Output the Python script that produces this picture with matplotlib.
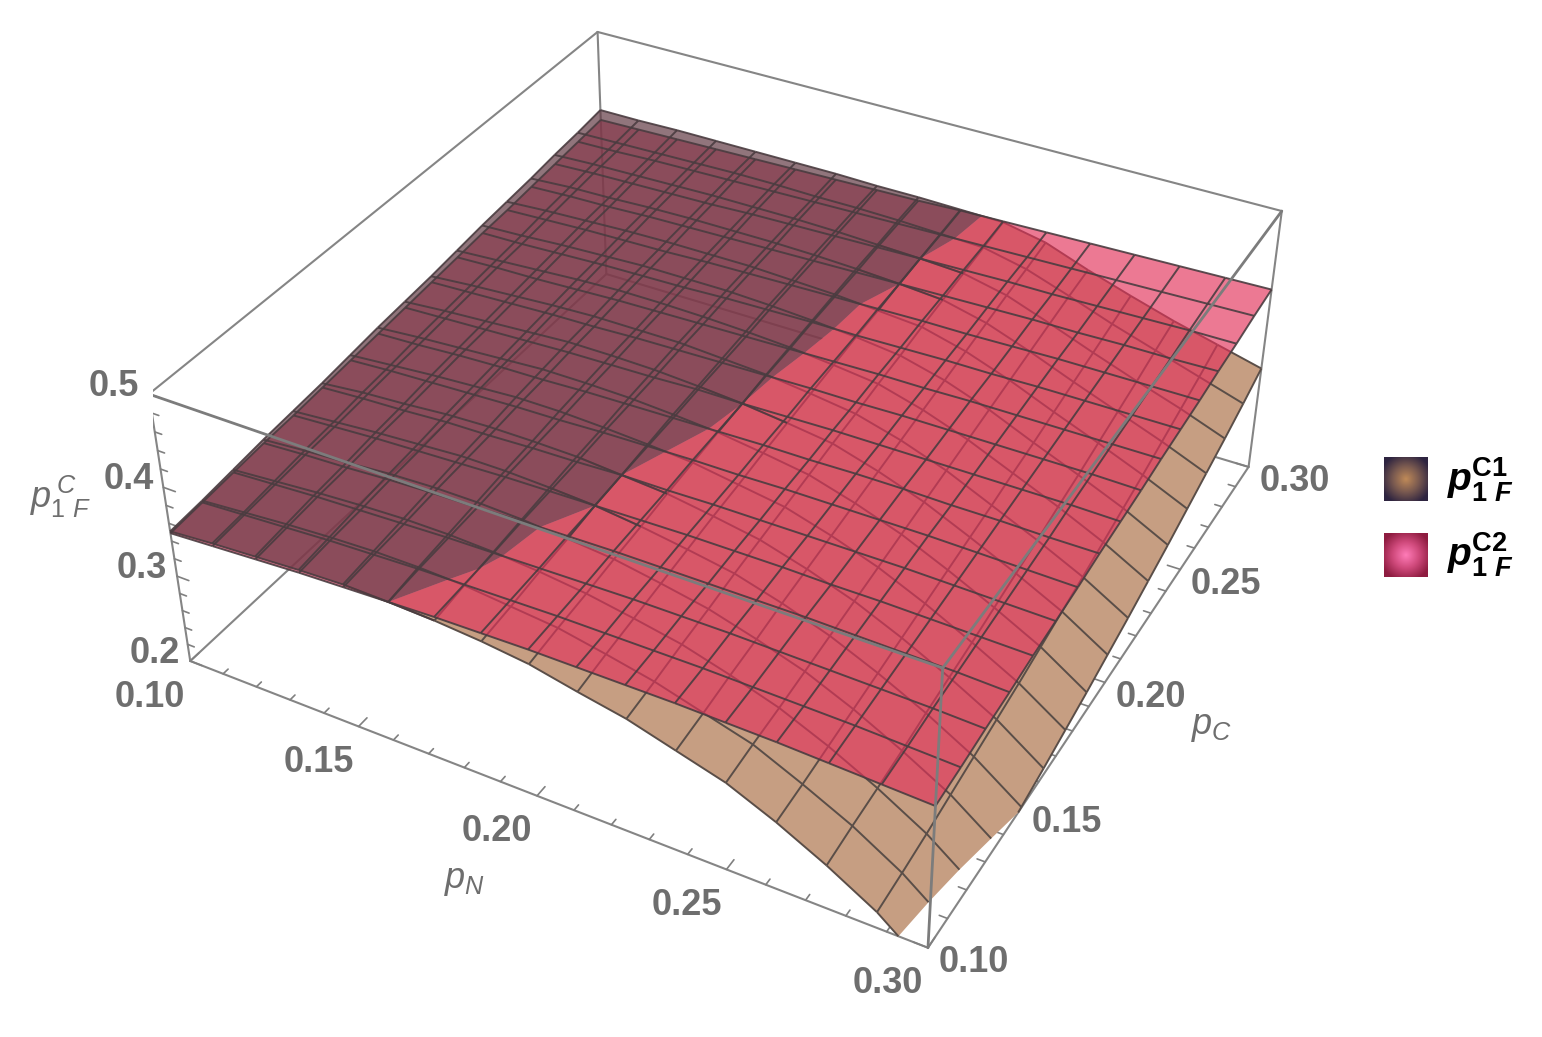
import numpy as np
import matplotlib
matplotlib.use("Agg")
import matplotlib.pyplot as plt
from matplotlib.colors import LinearSegmentedColormap
from mpl_toolkits.mplot3d import proj3d
from mpl_toolkits.mplot3d.art3d import Poly3DCollection, Line3DCollection

plt.rcParams['font.family'] = ['Liberation Sans', 'DejaVu Sans']
plt.rcParams['mathtext.fontset'] = 'custom'
plt.rcParams['mathtext.rm'] = 'Liberation Sans'
plt.rcParams['mathtext.it'] = 'Liberation Sans:italic'
plt.rcParams['mathtext.bf'] = 'Liberation Sans:bold'
plt.rcParams['mathtext.bfit'] = 'Liberation Sans:italic:bold'

# Values, in thousandths. Rows are pN, columns are pC
c1_values = [
    [351, 354, 358, 362, 365, 368, 372, 376, 379, 382, 386, 390, 393, 396, 400, 403, 407],
    [355, 358, 362, 366, 369, 373, 376, 380, 383, 386, 389, 392, 396, 399, 402, 404, 407],
    [358, 362, 366, 369, 373, 376, 380, 383, 386, 389, 392, 395, 398, 400, 403, 405, 408],
    [361, 365, 369, 373, 376, 380, 383, 386, 389, 392, 395, 397, 400, 402, 404, 406, 408],
    [363, 367, 371, 375, 379, 382, 386, 389, 392, 394, 397, 399, 401, 403, 405, 407, 408],
    [362, 367, 371, 375, 379, 382, 386, 389, 392, 394, 397, 399, 401, 403, 405, 407, 408],
    [360, 365, 369, 373, 377, 381, 384, 388, 391, 394, 396, 399, 401, 403, 405, 406, 408],
    [356, 360, 365, 369, 374, 377, 381, 385, 388, 391, 394, 397, 399, 402, 404, 406, 407],
    [350, 355, 359, 364, 368, 373, 377, 381, 384, 388, 391, 394, 397, 400, 402, 405, 407],
    [339, 345, 350, 355, 360, 365, 369, 374, 378, 382, 386, 390, 393, 397, 400, 403, 406],
    [329, 334, 340, 345, 351, 356, 361, 366, 371, 375, 380, 384, 389, 393, 397, 401, 405],
    [314, 319, 325, 330, 336, 341, 346, 351, 356, 361, 366, 371, 376, 381, 386, 390, 395],
    [299, 304, 308, 313, 318, 323, 328, 333, 338, 343, 348, 353, 358, 363, 368, 373, 377],
    [276, 280, 285, 290, 295, 300, 305, 310, 315, 320, 326, 331, 337, 343, 349, 355, 361],
    [249, 254, 258, 263, 269, 274, 279, 285, 291, 297, 304, 310, 317, 324, 331, 339, 346],
    [218, 222, 227, 233, 239, 245, 251, 258, 265, 272, 280, 288, 296, 305, 314, 323, 333],
    [176, 181, 187, 194, 201, 208, 216, 224, 233, 242, 252, 262, 273, 284, 295, 307, 320],
]
c2_values = [
    [349, 352, 355, 358, 360, 363, 366, 369, 372, 375, 378, 381, 383, 386, 389, 392, 395],
    [352, 355, 358, 361, 363, 366, 369, 371, 374, 377, 380, 382, 385, 388, 391, 393, 396],
    [355, 358, 361, 363, 366, 368, 371, 374, 376, 379, 381, 384, 387, 389, 392, 395, 397],
    [358, 361, 363, 366, 368, 371, 373, 376, 378, 381, 383, 386, 388, 391, 393, 396, 398],
    [360, 363, 365, 368, 370, 372, 375, 377, 380, 382, 385, 387, 389, 392, 394, 397, 399],
    [362, 365, 367, 369, 372, 374, 376, 379, 381, 384, 386, 388, 391, 393, 396, 398, 400],
    [364, 366, 368, 371, 373, 375, 378, 380, 382, 385, 387, 390, 392, 394, 397, 399, 401],
    [365, 367, 369, 372, 374, 377, 379, 381, 384, 386, 388, 391, 393, 395, 398, 400, 402],
    [366, 368, 370, 373, 375, 377, 380, 382, 384, 387, 389, 392, 394, 396, 399, 401, 403],
    [366, 368, 371, 373, 376, 378, 380, 383, 385, 388, 390, 392, 395, 397, 400, 402, 405],
    [366, 368, 371, 373, 376, 378, 381, 383, 386, 388, 391, 393, 396, 398, 401, 403, 406],
    [366, 368, 371, 373, 376, 378, 381, 384, 386, 389, 391, 394, 396, 399, 402, 404, 407],
    [365, 367, 370, 373, 375, 378, 381, 384, 386, 389, 392, 394, 397, 400, 402, 405, 408],
    [364, 366, 369, 372, 375, 378, 381, 383, 386, 389, 392, 395, 398, 400, 403, 406, 409],
    [362, 365, 368, 371, 374, 377, 380, 383, 386, 389, 392, 395, 398, 401, 404, 407, 410],
    [360, 363, 367, 370, 373, 376, 379, 382, 386, 389, 392, 395, 398, 401, 405, 408, 411],
    [358, 361, 365, 368, 372, 375, 378, 382, 385, 388, 392, 395, 398, 402, 405, 409, 412],
]
pn_ticks = [0.10, 0.15, 0.20, 0.25, 0.30]
pc_ticks = [0.10, 0.15, 0.20, 0.25, 0.30]
z_ticks = [0.2, 0.3, 0.4, 0.5]

W, H = 1542, 1037
c1 = np.array(c1_values) / 1000
c2 = np.array(c2_values) / 1000
grid = np.linspace(0.1, 0.3, 17)
x0, x1, y0, y1, z0, z1 = 0.1, 0.3, 0.1, 0.3, 0.2, 0.5

fig = plt.figure(figsize=(15.42, 10.37), dpi=100)
L, cx, cy = 1147.8, 726.9, 588.1
ax = fig.add_axes([(cx - L/2)/W, (cy - L/2)/H, L/W, L/H], projection='3d', computed_zorder=False)
ax.set_xlim(x0, x1)
ax.set_ylim(y0, y1)
ax.set_zlim(z0, z1)
ax.view_init(elev=36.035, azim=-61.324, roll=0.143)
ax.set_proj_type('persp', focal_length=0.4522)
ax.set_box_aspect((1, 0.9937, 0.4003))
ax.set_axis_off()


def clip(poly, idx, sign=1, lim=0.0):
    # keep the part of a polygon where column idx is on the sign side of lim
    out = []
    for a, b in zip(poly, poly[1:] + poly[:1]):
        fa, fb = sign*(a[idx] - lim), sign*(b[idx] - lim)
        if fa >= 0:
            out.append(a)
        if fa*fb < 0:
            out.append(a + (b - a)*fa/(fa - fb))
    return out


below, above, pink = [], [], []
for i in range(16):
    for j in range(16):
        quad = [(i, j), (i + 1, j), (i + 1, j + 1), (i, j + 1)]
        poly = [np.array([grid[a], grid[b], c1[a, b], c1[a, b] - c2[a, b]]) for a, b in quad]
        poly = clip(poly, 2, 1, z0)
        if len(poly) >= 3:
            up = clip(poly, 3, 1)
            lo = clip(poly, 3, -1)
            if len(up) >= 3:
                above.append([r[:3] for r in up])
            if len(lo) >= 3:
                below.append([r[:3] for r in lo])
        pink.append([(grid[a], grid[b], c2[a, b]) for a, b in quad])


def mesh(z, side=0):
    # mesh lines of a surface, cut at the floor and (side != 0) at the other surface
    segs = []
    for k in range(17):
        for m in range(16):
            for a, b in (((k, m), (k, m + 1)), ((m, k), (m + 1, k))):
                pts = [np.array([grid[p[0]], grid[p[1]], z[p], c1[p] - c2[p]]) for p in (a, b)]
                keep = True
                for idx, lim, sg in ((2, z0, 1), (3, 0.0, side)):
                    if sg == 0:
                        continue
                    fa, fb = sg*(pts[0][idx] - lim), sg*(pts[1][idx] - lim)
                    if fa < 0 and fb < 0:
                        keep = False
                        break
                    if fa*fb < 0:
                        cut = pts[0] + (pts[1] - pts[0])*fa/(fa - fb)
                        pts = [pts[0], cut] if fa > 0 else [cut, pts[1]]
                if keep:
                    segs.append([pts[0][:3], pts[1][:3]])
    return segs


def line(p0, p1, z, lw=1.5, color='#858585'):
    ax.plot(*zip(p0, p1), color=color, lw=lw, zorder=z, solid_capstyle='round')


# box edges behind the surfaces
for a, b in [((x0, y0, z0), (x1, y0, z0)), ((x1, y0, z0), (x1, y1, z0)), ((x1, y1, z0), (x0, y1, z0)),
             ((x0, y1, z0), (x0, y0, z0)), ((x0, y0, z0), (x0, y0, z1)), ((x1, y1, z0), (x1, y1, z1)),
             ((x0, y1, z0), (x0, y1, z1)), ((x0, y0, z1), (x0, y1, z1)), ((x0, y1, z1), (x1, y1, z1))]:
    line(a, b, 1)

# surfaces
ax.add_collection3d(Poly3DCollection(below, facecolor='#c69e82', edgecolor='none', zorder=2))
ax.add_collection3d(Line3DCollection(mesh(c1, -1), colors='#5a4e48', linewidths=1.4, zorder=3))
ax.add_collection3d(Poly3DCollection(pink, facecolor=(226/255, 50/255, 90/255, 0.65), edgecolor='none', zorder=4))
ax.add_collection3d(Poly3DCollection(above, facecolor=(98/255, 58/255, 68/255, 0.7), edgecolor='none', zorder=5))
ax.add_collection3d(Line3DCollection(mesh(c2), colors='#4a3c40', linewidths=1.4, alpha=0.9, zorder=6))
ax.add_collection3d(Line3DCollection(mesh(c1, 1), colors='#4a3c40', linewidths=1.4, alpha=0.9, zorder=6))

# box edges in front
for a, b in [((x0, y0, z1), (x1, y0, z1)), ((x1, y0, z1), (x1, y1, z1)), ((x1, y0, z0), (x1, y0, z1))]:
    line(a, b, 7, lw=2, color='#7c7c7c')

# tick marks
for v in np.arange(0.10, 0.3001, 0.01):
    l = 0.002 if round(v*100) % 5 else 0.0035
    line((v, y0, z0), (v, y0 + l, z0), 1, lw=1.2, color='#808080')
    line((x1, v, z0), (x1 - l, v, z0), 1, lw=1.2, color='#808080')
for v in np.arange(0.2, 0.5001, 0.02):
    l = 0.002 if round(v*100) % 10 else 0.0035
    line((x0, y0, v), (x0 + l, y0, v), 1, lw=1.2, color='#808080')

M = ax.get_proj()


def label(txt, pt, off):
    X, Y, _ = proj3d.proj_transform(pt[0], pt[1], pt[2], M)
    ax.annotate(txt, (X, Y), xycoords='data', xytext=off, textcoords='offset pixels', ha='center', va='center',
                fontsize=26, fontweight='bold', color='#6e6e6e', annotation_clip=False)


for v in pn_ticks:
    label('%.2f' % v, (v, y0, z0), (-40, -36))
for v in pc_ticks:
    label('%.2f' % v, (x1, v, z0), (46, -15))
for v in z_ticks:
    label('%.1f' % v, (x0, y0, v), (-35, 8))


def ptxt(x, y, s, **kw):
    fig.text(x/W, 1 - y/H, s, ha='center', va='center', **kw)


ptxt(465, 881, r'$p_N$', fontsize=26, color='#6e6e6e')
ptxt(1212, 726, r'$p_C$', fontsize=26, color='#6e6e6e')
ptxt(60, 497, r'$p_{1\ F}^{\,C}$', fontsize=26, color='#6e6e6e')
ptxt(1480, 480, r'$\mathbfit{p}_{\mathbf{1}\ \mathbfit{F}}^{\mathbf{C1}}$', fontsize=28, color='k')
ptxt(1480, 555, r'$\mathbfit{p}_{\mathbf{1}\ \mathbfit{F}}^{\mathbf{C2}}$', fontsize=28, color='k')

# legend swatches
yy, xx = np.mgrid[-1:1:64j, -1:1:64j]
rr = np.clip(np.hypot(xx, yy)/1.2, 0, 1)
for top, mid, edge, yt in (('#c08a58', '#7a5a50', '#2e2440', 457), ('#ff7cb8', '#d04a7c', '#8e1c40', 533)):
    iax = fig.add_axes([1384/W, 1 - (yt + 44)/H, 44/W, 44/H])
    iax.imshow(rr, cmap=LinearSegmentedColormap.from_list('s', [top, mid, edge]), vmin=0, vmax=1,
               interpolation='bilinear')
    iax.axis('off')

fig.savefig('out.png', dpi=100)
